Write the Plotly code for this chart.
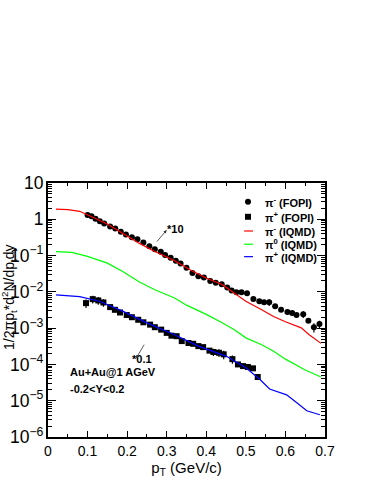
import plotly.graph_objects as go

# pi- FOPI (scaled *10)
pim_fopi_pt = [0.100, 0.110, 0.120, 0.131, 0.142, 0.157, 0.170, 0.184, 0.197, 0.212,
               0.226, 0.241, 0.256, 0.270, 0.285, 0.296, 0.310, 0.323, 0.335, 0.350,
               0.365, 0.380, 0.394, 0.410, 0.424, 0.439, 0.453, 0.464, 0.476, 0.489,
               0.503, 0.519, 0.534, 0.546, 0.559, 0.574, 0.589, 0.605, 0.617, 0.628,
               0.645, 0.658, 0.672, 0.686]
pim_fopi_y = [1.32, 1.21, 1.04, 0.88, 0.76, 0.63, 0.56, 0.45, 0.38, 0.32,
              0.28, 0.23, 0.18, 0.15, 0.128, 0.103, 0.0875, 0.072, 0.060, 0.046,
              0.033, 0.027, 0.025, 0.020, 0.0177, 0.0163, 0.0132, 0.0109, 0.0098, 0.0098,
              0.0091, 0.0064, 0.0055, 0.0052, 0.0052, 0.0040, 0.0032, 0.0028, 0.0026, 0.0023,
              0.0024, 0.0016, 0.00106, 0.0013]
pim_fopi_err = [0] * 34 + [0.0011, 0, 0, 0, 0, 0, 0.0005, 0, 0.0003, 0.0003]

# pi+ FOPI (scaled *0.1)
pip_fopi_pt = [0.096, 0.113, 0.127, 0.140, 0.157, 0.169, 0.182, 0.199, 0.212, 0.228,
               0.241, 0.258, 0.270, 0.286, 0.300, 0.312, 0.325, 0.338, 0.355, 0.367,
               0.380, 0.392, 0.408, 0.418, 0.432, 0.444, 0.466, 0.480, 0.493, 0.505,
               0.518, 0.530]
pip_fopi_y = [0.0049, 0.0063, 0.0058, 0.0051, 0.0038, 0.0032, 0.0027, 0.0023, 0.0020, 0.0017,
              0.00145, 0.00125, 0.00106, 0.00091, 0.00074, 0.00062, 0.00060, 0.00044, 0.00039, 0.00037,
              0.00032, 0.00030, 0.00024, 0.00022, 0.00021, 0.00019, 0.00014, 0.00010, 0.000090, 0.000085,
              0.000078, 0.000045]
pip_fopi_err = [0.0013, 0.0015, 0.0014, 0.0012] + [0] * 19 + [0.00005, 0.00005, 0.00005, 0.000035] + [0] * 5

# IQMD curves
pim_iqmd_pt = [0.02, 0.05, 0.08, 0.10, 0.12, 0.15, 0.19, 0.23, 0.27, 0.32, 0.36,
               0.40, 0.44, 0.47, 0.50, 0.54, 0.57, 0.60, 0.64, 0.66, 0.69]
pim_iqmd_y = [1.9, 1.85, 1.66, 1.35, 1.05, 0.74, 0.41, 0.22, 0.13, 0.072, 0.040,
              0.024, 0.016, 0.0095, 0.0055, 0.0032, 0.0021, 0.0015, 0.00102, 0.00066, 0.00038]

pi0_iqmd_pt = [0.02, 0.06, 0.10, 0.15, 0.19, 0.23, 0.27, 0.32, 0.35, 0.40, 0.44,
               0.47, 0.50, 0.54, 0.57, 0.60, 0.65, 0.69]
pi0_iqmd_y = [0.128, 0.122, 0.095, 0.062, 0.036, 0.019, 0.0114, 0.0068, 0.0043, 0.0024, 0.0014,
              0.00092, 0.00054, 0.00035, 0.00023, 0.00014, 0.000070, 0.000045]

pip_iqmd_pt = [0.02, 0.08, 0.13, 0.19, 0.25, 0.32, 0.38, 0.45, 0.50, 0.535, 0.56,
               0.586, 0.603, 0.628, 0.654, 0.687]
pip_iqmd_y = [0.0083, 0.0074, 0.0055, 0.0029, 0.0014, 0.00066, 0.00032, 0.00017, 0.000081, 0.000039, 0.000021,
              0.0000167, 0.0000145, 0.0000089, 0.0000053, 0.0000041]

legend_labels = ['π<sup>-</sup> (FOPI)', 'π<sup>+</sup> (FOPI)', 'π<sup>-</sup> (IQMD)',
                 'π<sup>0</sup> (IQMD)', 'π<sup>+</sup> (IQMD)']

FONT = "Liberation Sans"

fig = go.Figure()
fig.add_trace(go.Scatter(x=pim_fopi_pt, y=pim_fopi_y, mode='markers', name=legend_labels[0],
                         marker=dict(symbol='circle', size=6, color='black'),
                         error_y=dict(type='data', array=pim_fopi_err, width=0, thickness=1.2, color='black')))
fig.add_trace(go.Scatter(x=pip_fopi_pt, y=pip_fopi_y, mode='markers', name=legend_labels[1],
                         marker=dict(symbol='square', size=6, color='black'),
                         error_y=dict(type='data', array=pip_fopi_err, width=0, thickness=1.2, color='black')))
fig.add_trace(go.Scatter(x=pim_iqmd_pt, y=pim_iqmd_y, mode='lines', name=legend_labels[2],
                         line=dict(color='#ff0000', width=1.2)))
fig.add_trace(go.Scatter(x=pi0_iqmd_pt, y=pi0_iqmd_y, mode='lines', name=legend_labels[3],
                         line=dict(color='#00ff00', width=1.2)))
fig.add_trace(go.Scatter(x=pip_iqmd_pt, y=pip_iqmd_y, mode='lines', name=legend_labels[4],
                         line=dict(color='#0000ff', width=1.2)))

bold = dict(family=FONT, size=11, color='black', weight='bold')

# compact ROOT-style legend (plotly's own legend rows are too tall)
leg_rows = [0.926, 0.867, 0.811, 0.759, 0.710]
for i, tr in enumerate(fig.data):
    yy = leg_rows[i]
    if tr.mode == 'markers':
        if tr.marker.symbol == 'circle':
            fig.add_shape(type='circle', xref='paper', yref='paper', xsizemode='pixel', ysizemode='pixel',
                          xanchor=0.722, yanchor=yy, x0=-3, x1=3, y0=-3, y1=3,
                          fillcolor='black', line=dict(width=0))
        else:
            fig.add_shape(type='rect', xref='paper', yref='paper', xsizemode='pixel', ysizemode='pixel',
                          xanchor=0.722, yanchor=yy, x0=-3, x1=3, y0=-3, y1=3,
                          fillcolor='black', line=dict(width=0))
    else:
        fig.add_shape(type='line', xref='paper', yref='paper', x0=0.708, x1=0.740, y0=yy, y1=yy,
                      line=dict(color=tr.line.color, width=1.2))
    fig.add_annotation(text=tr.name, x=0.775, y=yy, xref='paper', yref='paper', xanchor='left',
                       yanchor='middle', showarrow=False, font=bold)

fig.add_annotation(text='*10', x=0.4585, y=0.85, xref='paper', yref='paper', showarrow=False, font=bold)
fig.add_annotation(text='', x=0.4285, y=0.815, xref='paper', yref='paper', showarrow=True,
                   ax=-11, ay=13, arrowhead=2, arrowsize=0.8, arrowwidth=0.8, arrowcolor='#333333')
fig.add_annotation(text='*0.1', x=0.296, y=0.277, xref='paper', yref='paper', showarrow=False, font=bold)
fig.add_annotation(text='', x=0.318, y=0.31, xref='paper', yref='paper', showarrow=True,
                   ax=9, ay=-15, arrowhead=2, arrowsize=0.8, arrowwidth=0.8, arrowcolor='#333333')
fig.add_annotation(text='Au+Au@1 AGeV', x=0.072, y=0.224, xref='paper', yref='paper',
                   xanchor='left', showarrow=False, font=bold)
fig.add_annotation(text='-0.2<Y<0.2', x=0.072, y=0.159, xref='paper', yref='paper',
                   xanchor='left', showarrow=False, font=bold)
fig.add_annotation(text='1/2πp<sub>t</sub>*d<sup>2</sup>N/dp<sub>t</sub>dy', x=-0.143, y=0.549,
                   xref='paper', yref='paper', xanchor='center', yanchor='middle', textangle=-90,
                   showarrow=False, font=dict(family=FONT, size=14, color='black'))

fig.update_layout(
    width=374, height=484,
    margin=dict(l=48, r=49, t=183, b=47),
    plot_bgcolor='white', paper_bgcolor='white',
    font=dict(family=FONT, color='black'),
    showlegend=False,
)
fig.update_xaxes(range=[0, 0.7], dtick=0.1, ticks='inside', ticklen=6, tickwidth=1, tickcolor='black',
                 showline=True, linecolor='black', linewidth=1.5, mirror='ticks', automargin=False,
                 showgrid=False, zeroline=False, tickfont=dict(size=14),
                 minor=dict(dtick=0.05, ticks='inside', ticklen=3, tickcolor='black', showgrid=False),
                 title=dict(text='p<sub>T</sub> (GeV/c)', font=dict(size=15), standoff=0))
fig.update_yaxes(type='log', range=[-6, 1], dtick=1, exponentformat='power', ticks='inside', ticklen=8,
                 tickwidth=1, tickcolor='black', showline=True, linecolor='black', linewidth=1.5,
                 mirror='ticks', showgrid=False, zeroline=False, tickfont=dict(size=14), automargin=False,
                 minor=dict(ticks='inside', ticklen=4, tickcolor='black', showgrid=False))

# drop the page's default body margin so the figure fills the window
fig.write_html("out.html", config={'displayModeBar': False},
               post_script="document.body.style.margin='0px';")
